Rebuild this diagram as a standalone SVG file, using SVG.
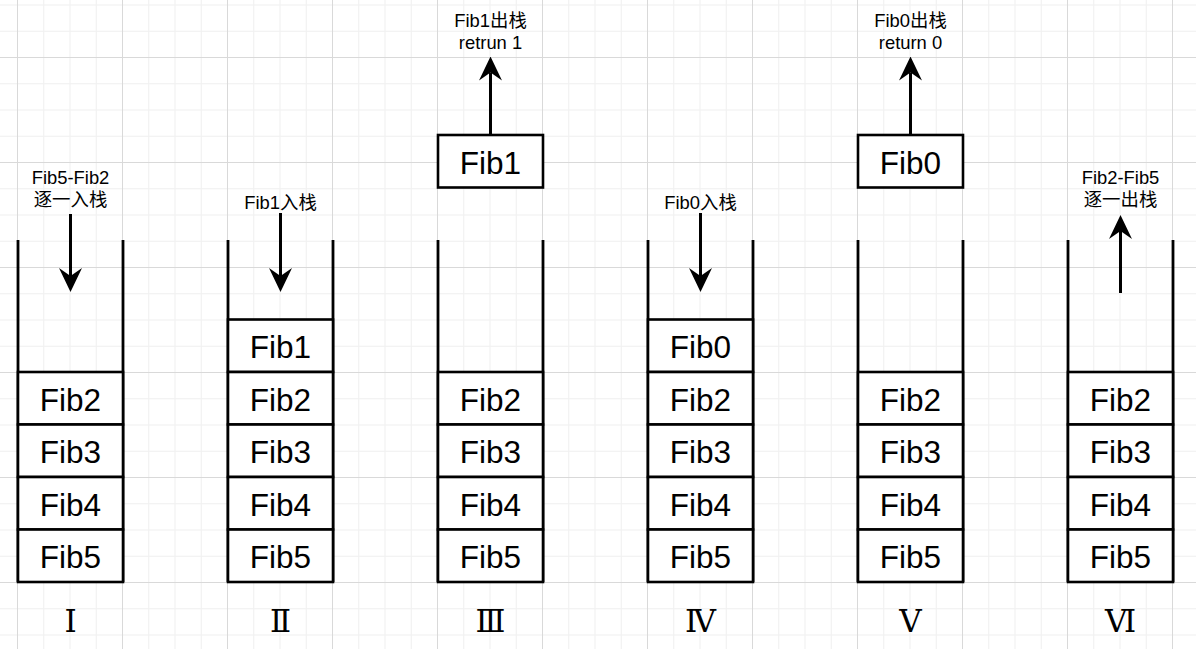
<svg xmlns="http://www.w3.org/2000/svg" width="1196" height="649" viewBox="0 0 1196 649">
<style>
.cell{fill:#ffffff;stroke:#000000;stroke-width:2.6}
.wall{fill:none;stroke:#000000;stroke-width:2.8}
.big{font-family:"Liberation Sans",Arial,sans-serif;font-size:31.5px;fill:#000000;text-anchor:middle}
.lbl{font-family:"Liberation Sans",Arial,"Noto Sans CJK SC",sans-serif;font-size:18.4px;fill:#000000;text-anchor:middle}
.rom{font-family:"DejaVu Serif","Noto Sans CJK SC",serif;font-size:31px;fill:#000000;text-anchor:middle}
.arrow{fill:none;stroke:#000000;stroke-width:3;marker-end:url(#ah)}
</style>
<defs>
<pattern id="grid" patternUnits="userSpaceOnUse" x="17" y="57" width="105" height="105">
<rect x="26.25" y="0" width="1" height="105" fill="#f0f0f0"/>
<rect x="52.5" y="0" width="1" height="105" fill="#f0f0f0"/>
<rect x="78.75" y="0" width="1" height="105" fill="#f0f0f0"/>
<rect x="0" y="26.25" width="105" height="1" fill="#f0f0f0"/>
<rect x="0" y="52.5" width="105" height="1" fill="#f0f0f0"/>
<rect x="0" y="78.75" width="105" height="1" fill="#f0f0f0"/>
<rect x="0" y="0" width="1" height="105" fill="#d9d9d9"/>
<rect x="0" y="0" width="105" height="1" fill="#d9d9d9"/>
</pattern>
<marker id="ah" markerUnits="userSpaceOnUse" markerWidth="24" markerHeight="24" viewBox="0 0 24 24" refX="8" refY="12" orient="auto">
<path d="M0,0.5 L24,12 L0,23.5 L8,12 Z" fill="#000000"/>
</marker>
</defs>
<rect width="1196" height="649" fill="#ffffff"/>
<rect width="1196" height="649" fill="url(#grid)"/>

<g id="stack1">
<path class="wall" d="M18,240 V582 M123,240 V582"/>
<g id="s1-fib2"><rect class="cell" x="18" y="372" width="105" height="52.5"/><text class="big" x="70.5" y="410.5">Fib2</text></g>
<g id="s1-fib3"><rect class="cell" x="18" y="424.5" width="105" height="52.5"/><text class="big" x="70.5" y="463">Fib3</text></g>
<g id="s1-fib4"><rect class="cell" x="18" y="477" width="105" height="52.5"/><text class="big" x="70.5" y="515.5">Fib4</text></g>
<g id="s1-fib5"><rect class="cell" x="18" y="529.5" width="105" height="52.5"/><text class="big" x="70.5" y="568">Fib5</text></g>
<text class="lbl" x="70.5" y="184">Fib5-Fib2</text>
<text class="lbl" x="70.5" y="206">逐一入栈</text>
<text class="rom" x="70.5" y="632">Ⅰ</text>
</g>

<g id="stack2">
<path class="wall" d="M228,240 V582 M333,240 V582"/>
<g id="s2-fib1"><rect class="cell" x="228" y="319.5" width="105" height="52.5"/><text class="big" x="280.5" y="358">Fib1</text></g>
<g id="s2-fib2"><rect class="cell" x="228" y="372" width="105" height="52.5"/><text class="big" x="280.5" y="410.5">Fib2</text></g>
<g id="s2-fib3"><rect class="cell" x="228" y="424.5" width="105" height="52.5"/><text class="big" x="280.5" y="463">Fib3</text></g>
<g id="s2-fib4"><rect class="cell" x="228" y="477" width="105" height="52.5"/><text class="big" x="280.5" y="515.5">Fib4</text></g>
<g id="s2-fib5"><rect class="cell" x="228" y="529.5" width="105" height="52.5"/><text class="big" x="280.5" y="568">Fib5</text></g>
<text class="lbl" x="280.5" y="209">Fib1入栈</text>
<text class="rom" x="280.5" y="632">Ⅱ</text>
</g>

<g id="stack3">
<path class="wall" d="M438,240 V582 M543,240 V582"/>
<g id="s3-fib2"><rect class="cell" x="438" y="372" width="105" height="52.5"/><text class="big" x="490.5" y="410.5">Fib2</text></g>
<g id="s3-fib3"><rect class="cell" x="438" y="424.5" width="105" height="52.5"/><text class="big" x="490.5" y="463">Fib3</text></g>
<g id="s3-fib4"><rect class="cell" x="438" y="477" width="105" height="52.5"/><text class="big" x="490.5" y="515.5">Fib4</text></g>
<g id="s3-fib5"><rect class="cell" x="438" y="529.5" width="105" height="52.5"/><text class="big" x="490.5" y="568">Fib5</text></g>
<g id="s3-fib1out"><rect class="cell" x="438" y="135" width="105" height="52.5"/><text class="big" x="490.5" y="173.5">Fib1</text></g>
<text class="lbl" x="490.5" y="26.5">Fib1出栈</text>
<text class="lbl" x="490.5" y="48.5">retrun 1</text>
<text class="rom" x="490.5" y="632">Ⅲ</text>
</g>

<g id="stack4">
<path class="wall" d="M648,240 V582 M753,240 V582"/>
<g id="s4-fib0"><rect class="cell" x="648" y="319.5" width="105" height="52.5"/><text class="big" x="700.5" y="358">Fib0</text></g>
<g id="s4-fib2"><rect class="cell" x="648" y="372" width="105" height="52.5"/><text class="big" x="700.5" y="410.5">Fib2</text></g>
<g id="s4-fib3"><rect class="cell" x="648" y="424.5" width="105" height="52.5"/><text class="big" x="700.5" y="463">Fib3</text></g>
<g id="s4-fib4"><rect class="cell" x="648" y="477" width="105" height="52.5"/><text class="big" x="700.5" y="515.5">Fib4</text></g>
<g id="s4-fib5"><rect class="cell" x="648" y="529.5" width="105" height="52.5"/><text class="big" x="700.5" y="568">Fib5</text></g>
<text class="lbl" x="700.5" y="209">Fib0入栈</text>
<text class="rom" x="700.5" y="632">Ⅳ</text>
</g>

<g id="stack5">
<path class="wall" d="M858,240 V582 M963,240 V582"/>
<g id="s5-fib2"><rect class="cell" x="858" y="372" width="105" height="52.5"/><text class="big" x="910.5" y="410.5">Fib2</text></g>
<g id="s5-fib3"><rect class="cell" x="858" y="424.5" width="105" height="52.5"/><text class="big" x="910.5" y="463">Fib3</text></g>
<g id="s5-fib4"><rect class="cell" x="858" y="477" width="105" height="52.5"/><text class="big" x="910.5" y="515.5">Fib4</text></g>
<g id="s5-fib5"><rect class="cell" x="858" y="529.5" width="105" height="52.5"/><text class="big" x="910.5" y="568">Fib5</text></g>
<g id="s5-fib0out"><rect class="cell" x="858" y="135" width="105" height="52.5"/><text class="big" x="910.5" y="173.5">Fib0</text></g>
<text class="lbl" x="910.5" y="26.5">Fib0出栈</text>
<text class="lbl" x="910.5" y="48.5">return 0</text>
<text class="rom" x="910.5" y="632">Ⅴ</text>
</g>

<g id="stack6">
<path class="wall" d="M1068,240 V582 M1173,240 V582"/>
<g id="s6-fib2"><rect class="cell" x="1068" y="372" width="105" height="52.5"/><text class="big" x="1120.5" y="410.5">Fib2</text></g>
<g id="s6-fib3"><rect class="cell" x="1068" y="424.5" width="105" height="52.5"/><text class="big" x="1120.5" y="463">Fib3</text></g>
<g id="s6-fib4"><rect class="cell" x="1068" y="477" width="105" height="52.5"/><text class="big" x="1120.5" y="515.5">Fib4</text></g>
<g id="s6-fib5"><rect class="cell" x="1068" y="529.5" width="105" height="52.5"/><text class="big" x="1120.5" y="568">Fib5</text></g>
<text class="lbl" x="1120.5" y="184">Fib2-Fib5</text>
<text class="lbl" x="1120.5" y="206">逐一出栈</text>
<text class="rom" x="1120.5" y="632">Ⅵ</text>
</g>

<g id="connectors">
<path class="arrow" d="M70.5,214 V276"/>
<path class="arrow" d="M280.5,213 V276"/>
<path class="arrow" d="M490.5,135 V72.5"/>
<path class="arrow" d="M700.5,213 V276"/>
<path class="arrow" d="M910.5,135 V72.5"/>
<path class="arrow" d="M1120.5,293 V231"/>
</g>
</svg>
